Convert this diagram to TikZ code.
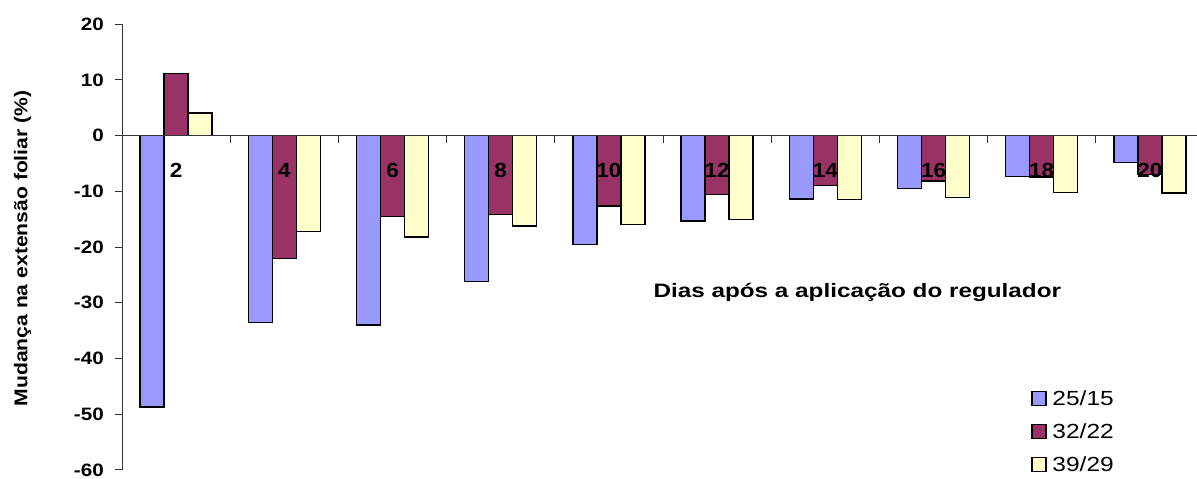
\documentclass[tikz,border=0pt]{standalone}
\usepackage{fontspec}
\setmainfont{Liberation Sans}
\usetikzlibrary{positioning}

\definecolor{serA}{HTML}{9999FF}
\definecolor{serB}{HTML}{993366}
\definecolor{serC}{HTML}{FFFFCC}

\tikzset{
  bar/.style={draw=black, line width=1.4bp},
  axisline/.style={draw=black!80, line width=1bp},
  ticklabel/.style={font=\fontsize{18}{20}\selectfont\bfseries, xscale=1.15, anchor=east, inner sep=0pt},
  catlabel/.style={font=\fontsize{20.5}{22}\selectfont\bfseries, xscale=1.1, inner sep=0pt},
  keybox/.style={draw=black, line width=1.4bp, minimum size=14bp, inner sep=0pt},
  keytext/.style={font=\fontsize{20.5}{22}\selectfont, xscale=1.2, inner sep=0pt, right=5.5bp of #1}
}

\begin{document}
\begin{tikzpicture}[x=108.2bp,y=5.57bp]
  \useasboundingbox (-1.1275,24.36) rectangle (9.935,-61.63);
  % bars
  \foreach \i/\a/\b/\c in {0/-48.7/11.2/4.1, 1/-33.5/-22.0/-17.2, 2/-34.0/-14.5/-18.2,
      3/-26.2/-14.1/-16.2, 4/-19.5/-12.6/-15.9, 5/-15.3/-10.6/-15.1,
      6/-11.4/-8.9/-11.5, 7/-9.5/-8.1/-11.1, 8/-7.35/-7.4/-10.2, 9/-4.8/-7.0/-10.3}
  {
    \draw[bar,fill=serA] (\i+0.1664,0) rectangle ++(0.2218,\a);
    \draw[bar,fill=serB] (\i+0.3882,0) rectangle ++(0.2218,\b);
    \draw[bar,fill=serC] (\i+0.6100,0) rectangle ++(0.2218,\c);
  }
  % axes
  \coordinate (o) at (0,0);
  \coordinate (top) at (0,20);
  \coordinate (bot) at (0,-60);
  \coordinate (xend) at (9.935,0);
  \draw[axisline] (top) -- (bot);
  \draw[axisline] (o) -- (xend);
  \foreach \v in {20,10,...,-60}
  {
    \draw[axisline] ([xshift=-7bp]0,\v) -- (0,\v);
    \node[ticklabel] (y\v) at ([xshift=-18bp]0,\v) {\v};
  }
  \foreach \k in {1,...,9}
    \draw[axisline] (\k,0) -- ([yshift=-7bp]\k,0);
  % day labels
  \foreach \i/\lab in {0/2, 1/4, 2/6, 3/8, 4/10, 5/12, 6/14, 7/16, 8/18, 9/20}
    \node[catlabel] (d\lab) at (\i+0.5,-6.3) {\lab};
  % titles
  \node[font=\fontsize{19.5}{22}\selectfont\bfseries, xscale=1.25, anchor=base west, inner sep=0pt] (xtitle)
    at (4.910,-29.01) {Dias após a aplicação do regulador};
  \node[font=\fontsize{18.6}{22}\selectfont\bfseries, rotate=90, xscale=1.14, anchor=base, inner sep=0pt] (ytitle)
    at (-0.875,-20.25) {Mudança na extensão foliar (\%)};
  % legend
  \node[keybox,fill=serA] (kA) at (8.475,-47.13) {};
  \node[keybox,fill=serB] (kB) at (8.475,-53.14) {};
  \node[keybox,fill=serC] (kC) at (8.475,-59.0) {};
  \node[keytext=kA] (tA) {25/15};
  \node[keytext=kB] (tB) {32/22};
  \node[keytext=kC] (tC) {39/29};
\end{tikzpicture}
\end{document}
